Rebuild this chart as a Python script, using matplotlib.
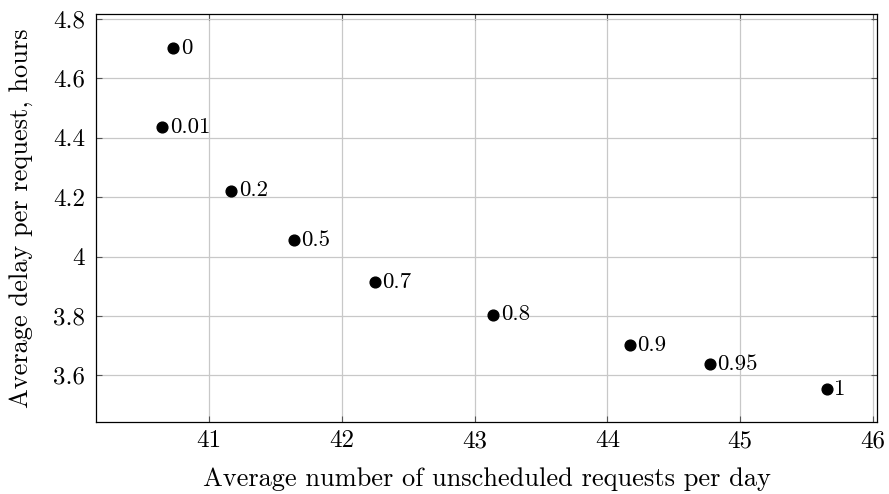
import matplotlib
matplotlib.use("Agg")
import matplotlib.pyplot as plt
from matplotlib.ticker import FuncFormatter, MultipleLocator

unscheduled = [40.73, 40.65, 41.17, 41.64, 42.25, 43.14, 44.17, 44.77, 45.65]
delay = [4.703, 4.435, 4.222, 4.055, 3.915, 3.805, 3.703, 3.637, 3.553]
labels = ["0", "0.01", "0.2", "0.5", "0.7", "0.8", "0.9", "0.95", "1"]

plt.rcParams['font.family'] = ['cmr10', 'DejaVu Serif']
plt.rcParams['axes.formatter.use_mathtext'] = True
plt.rcParams['mathtext.fontset'] = 'cm'

fig = plt.figure(figsize=(8.89, 4.94), dpi=100)
ax = fig.add_axes([96/889, 1 - 422/494, (877-96)/889, (422-14)/494])

ax.scatter(unscheduled, delay, s=60, color='black', zorder=3)
for x, y, t in zip(unscheduled, delay, labels):
    ax.annotate(t, (x, y), xytext=(5.5, 0), textcoords='offset points',
                va='center', ha='left', fontsize=16.5)

ax.set_xlim(40.15, 46.03)
ax.set_ylim(3.443, 4.817)
ax.xaxis.set_major_locator(MultipleLocator(1))
ax.yaxis.set_major_locator(MultipleLocator(0.2))
fmt = FuncFormatter(lambda v, p: f"{v:g}")
ax.xaxis.set_major_formatter(fmt)
ax.yaxis.set_major_formatter(fmt)
ax.grid(True, color='#c8c8c8', linewidth=0.9)
ax.set_axisbelow(True)
ax.tick_params(direction='in', top=True, right=True, length=4, width=0.8,
               labelsize=18, pad=6, color='#555555')
ax.tick_params(axis='y', pad=8)
for s in ax.spines.values():
    s.set_linewidth(0.9)
ax.set_xlabel("Average number of unscheduled requests per day", fontsize=19, labelpad=11)
ax.set_ylabel("Average delay per request, hours", fontsize=19, labelpad=14)

fig.savefig("out.png", dpi=100)
